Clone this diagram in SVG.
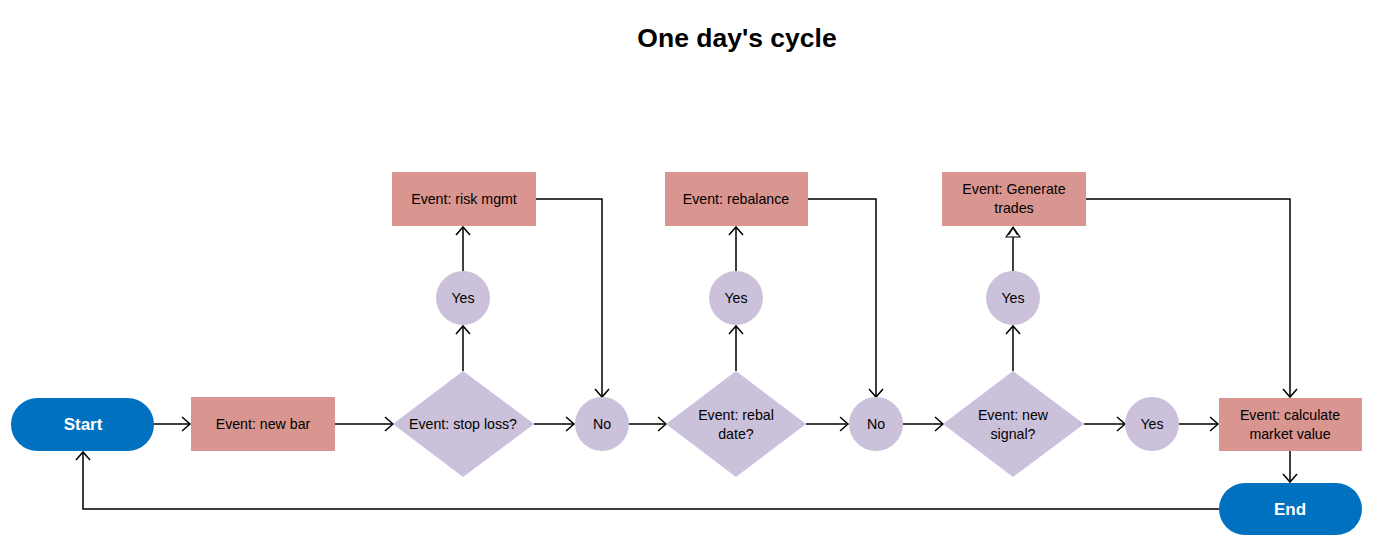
<svg xmlns="http://www.w3.org/2000/svg" width="1373" height="547" viewBox="0 0 1373 547">
<style>
.t{font-family:"Liberation Sans",Arial,sans-serif;font-size:14.2px;fill:#000;text-anchor:middle;dominant-baseline:central}
.w{font-family:"Liberation Sans",Arial,sans-serif;font-size:17px;font-weight:bold;fill:#fff;text-anchor:middle;dominant-baseline:central}
.term{fill:#0070C0}
.box{fill:#D9958F}
.dec{fill:#CCC1DA}
.c{fill:none;stroke:#000;stroke-width:1.5}
</style>
<defs>
<marker id="a" markerUnits="userSpaceOnUse" markerWidth="12" markerHeight="16" refX="9" refY="8" orient="auto">
<path d="M1,1 L9,8 L1,15" fill="none" stroke="#000" stroke-width="1.5"/>
</marker>
<marker id="h" markerUnits="userSpaceOnUse" markerWidth="14" markerHeight="16" refX="11" refY="8" orient="auto">
<path d="M1,1 L11,8 L1,15 Z" fill="#fff" stroke="#000" stroke-width="1.2"/>
<path d="M3,3.5 L10,8 L3,12.5" fill="none" stroke="#000" stroke-width="1.2"/>
</marker>
</defs>
<rect width="1373" height="547" fill="#fff"/>
<text x="737" y="38" style="font-family:'Liberation Sans',Arial,sans-serif;font-size:26.5px;font-weight:bold;text-anchor:middle;dominant-baseline:central">One day's cycle</text>

<g id="connectors">
<path class="c" d="M154,424 H190" marker-end="url(#a)"/>
<path class="c" d="M335,424 H393" marker-end="url(#a)"/>
<path class="c" d="M463,371 V326" marker-end="url(#a)"/>
<path class="c" d="M463,271 V227" marker-end="url(#a)"/>
<path class="c" d="M536,199 H602 V397" marker-end="url(#a)"/>
<path class="c" d="M534,424 H574" marker-end="url(#a)"/>
<path class="c" d="M629,424 H666" marker-end="url(#a)"/>
<path class="c" d="M736,371 V326" marker-end="url(#a)"/>
<path class="c" d="M736,271 V227" marker-end="url(#a)"/>
<path class="c" d="M808,199 H876 V397" marker-end="url(#a)"/>
<path class="c" d="M806,424 H848" marker-end="url(#a)"/>
<path class="c" d="M903,424 H943" marker-end="url(#a)"/>
<path class="c" d="M1013,371 V326" marker-end="url(#a)"/>
<path class="c" d="M1013,271 V227" marker-end="url(#h)"/>
<path class="c" d="M1086,199 H1290 V397" marker-end="url(#a)"/>
<path class="c" d="M1084,424 H1125" marker-end="url(#a)"/>
<path class="c" d="M1179,424 H1218" marker-end="url(#a)"/>
<path class="c" d="M1290,451 V482" marker-end="url(#a)"/>
<path class="c" d="M1219,509 H83 V452" marker-end="url(#a)"/>
</g>

<g id="start"><rect class="term" x="11" y="398" width="143" height="53" rx="26.5"/><text class="w" x="83" y="424">Start</text></g>
<g id="newbar"><rect class="box" x="191" y="397" width="144" height="54"/><text class="t" x="263" y="424">Event: new bar</text></g>
<g id="stoploss"><path class="dec" d="M393,424 L463,371 L534,424 L463,477 Z"/><text class="t" x="463" y="424">Event: stop loss?</text></g>
<g id="yes1"><circle class="dec" cx="463" cy="298" r="27"/><text class="t" x="463" y="298">Yes</text></g>
<g id="riskmgmt"><rect class="box" x="392" y="172" width="144" height="54"/><text class="t" x="464" y="199">Event: risk mgmt</text></g>
<g id="no1"><circle class="dec" cx="602" cy="424" r="27"/><text class="t" x="602" y="424">No</text></g>
<g id="rebal"><path class="dec" d="M666,424 L736,371 L806,424 L736,477 Z"/><text class="t" x="736" y="415">Event: rebal</text><text class="t" x="736" y="434">date?</text></g>
<g id="yes2"><circle class="dec" cx="736" cy="298" r="27"/><text class="t" x="736" y="298">Yes</text></g>
<g id="rebalance"><rect class="box" x="665" y="172" width="143" height="54"/><text class="t" x="736" y="199">Event: rebalance</text></g>
<g id="no2"><circle class="dec" cx="876" cy="424" r="27"/><text class="t" x="876" y="424">No</text></g>
<g id="newsignal"><path class="dec" d="M943,424 L1013,371 L1084,424 L1013,477 Z"/><text class="t" x="1013" y="415">Event: new</text><text class="t" x="1013" y="434">signal?</text></g>
<g id="yes3"><circle class="dec" cx="1013" cy="298" r="27"/><text class="t" x="1013" y="298">Yes</text></g>
<g id="gentrades"><rect class="box" x="942" y="172" width="144" height="54"/><text class="t" x="1014" y="189">Event: Generate</text><text class="t" x="1014" y="208">trades</text></g>
<g id="yes4"><circle class="dec" cx="1152" cy="424" r="27"/><text class="t" x="1152" y="424">Yes</text></g>
<g id="calc"><rect class="box" x="1219" y="398" width="143" height="53"/><text class="t" x="1290" y="415">Event: calculate</text><text class="t" x="1290" y="434">market value</text></g>
<g id="end"><rect class="term" x="1219" y="483" width="143" height="52" rx="26"/><text class="w" x="1290" y="509">End</text></g>
</svg>
